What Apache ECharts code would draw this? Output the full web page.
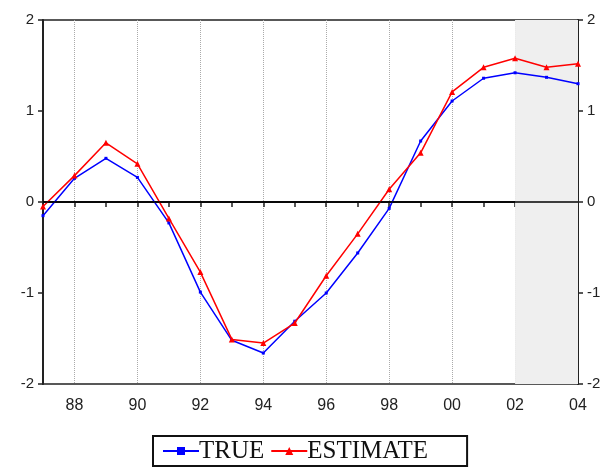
<!DOCTYPE html>
<html>
<head>
<meta charset="utf-8">
<script src="https://cdn.jsdelivr.net/npm/echarts@6/dist/echarts.min.js"></script>
<style>html,body{margin:0;padding:0;background:#fff;}#c{width:605px;height:468px;}</style>
</head>
<body>
<div id="c"></div>
<script>
const years = ['87','88','89','90','91','92','93','94','95','96','97','98','99','00','01','02','03','04'];
const trueValues = [-0.15,0.26,0.48,0.27,-0.23,-0.99,-1.52,-1.66,-1.31,-1.00,-0.56,-0.07,0.67,1.11,1.36,1.42,1.37,1.30];
const estimateValues = [-0.05,0.29,0.65,0.42,-0.18,-0.77,-1.51,-1.55,-1.33,-0.81,-0.35,0.14,0.54,1.21,1.48,1.58,1.48,1.52];
const yTicks = [-2,-1,0,1,2];
const shadeStart = '02', shadeEnd = '04';

const chart = echarts.init(document.getElementById('c'), null, {renderer:'canvas'});
const axisColor = '#222';
const labelFont = {fontFamily:'Liberation Sans, Arial, sans-serif', color:'#222'};
chart.setOption({
  animation:false,
  backgroundColor:'#fff',
  grid:{left:43, right:27, top:20, bottom:84, show:true, borderColor:axisColor, borderWidth:1.5, backgroundColor:'transparent'},
  legend:{
    left:153, top:436,
    data:['TRUE','ESTIMATE'],
    itemWidth:36, itemHeight:10, itemGap:6,
    borderColor:'#111', borderWidth:2, borderRadius:0,
    padding:[0,39,0,9],
    textStyle:{fontFamily:'Liberation Serif, Times New Roman, serif', fontSize:25, color:'#111', padding:[24,0,0,-5], lineHeight:6}
  },
  xAxis:{
    type:'category', data:years, boundaryGap:false,
    axisLine:{lineStyle:{color:axisColor, width:2}},
    axisTick:{inside:false, length:5, interval:0, lineStyle:{color:axisColor, width:1.5}},
    axisLabel:{interval:(i)=> i%2===1, margin:14, fontSize:16, ...labelFont},
    splitLine:{show:true, interval:(i)=> i%2===1 && i<17, lineStyle:{color:'#aaa', type:'dotted', width:1}}
  },
  yAxis:[
    {type:'value', min:-2, max:2, interval:1, position:'left',
     axisLine:{show:true, lineStyle:{color:axisColor, width:2}},
     axisTick:{show:true, length:5, lineStyle:{color:axisColor, width:1.5}},
     axisLabel:{margin:9, fontSize:15, ...labelFont, formatter:(v)=> yTicks.includes(v) ? String(v) : ''},
     splitLine:{show:false}},
    {type:'value', min:-2, max:2, interval:1, position:'right',
     axisLine:{show:true, lineStyle:{color:axisColor, width:2}},
     axisTick:{show:true, length:5, lineStyle:{color:axisColor, width:1.5}},
     axisLabel:{margin:9, fontSize:15, ...labelFont, formatter:(v)=> yTicks.includes(v) ? String(v) : ''},
     splitLine:{show:false}}
  ],
  series:[
    {name:'TRUE', type:'line', data:trueValues, yAxisIndex:0,
     symbol:'rect', symbolSize:3, showSymbol:true,
     lineStyle:{color:'#0000ff', width:1.5}, itemStyle:{color:'#0000ff'},
     markArea:{silent:true, itemStyle:{color:'#efefef'}, data:[[{xAxis:shadeStart},{xAxis:shadeEnd}]]},
     markLine:{silent:true, symbol:'none', label:{show:false}, lineStyle:{color:'#000', type:'solid', width:1.5}, data:[{yAxis:0}]},
     z:3},
    {name:'ESTIMATE', type:'line', data:estimateValues, yAxisIndex:0,
     symbol:'triangle', symbolSize:6, showSymbol:true,
     lineStyle:{color:'#ff0000', width:1.5}, itemStyle:{color:'#ff0000'}, z:4}
  ]
});
</script>
</body>
</html>
